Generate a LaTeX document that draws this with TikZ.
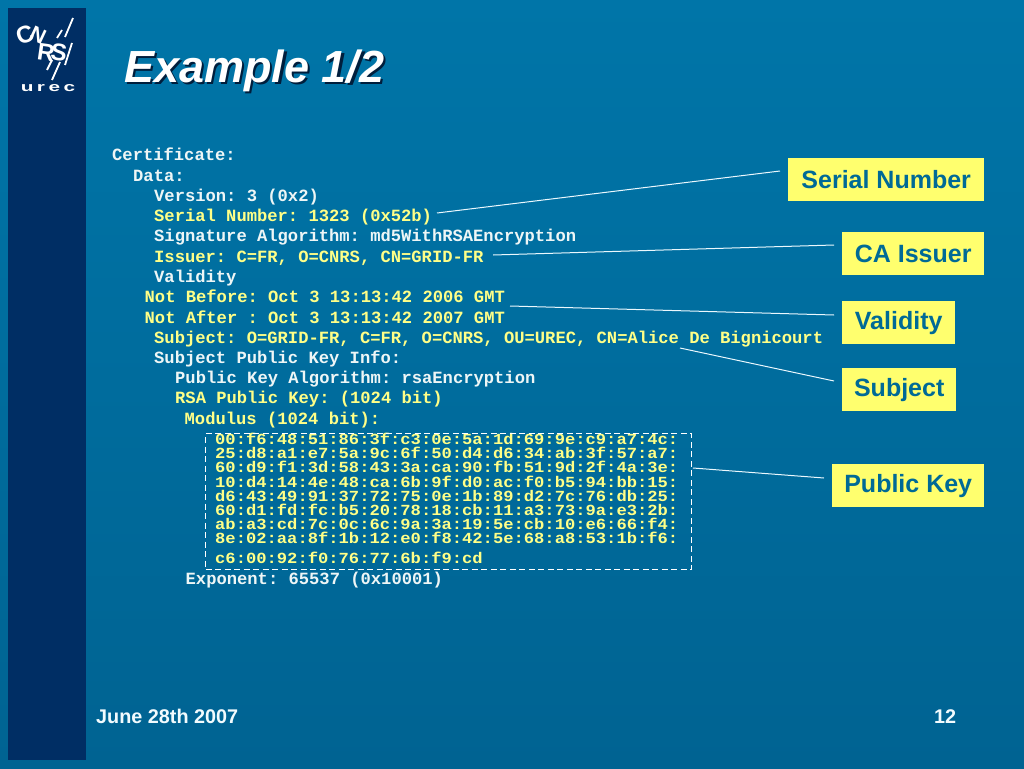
\documentclass[tikz,border=0pt]{standalone}
\usepackage{fontspec}
\setmainfont{Liberation Sans}
\newfontfamily\certfont{Liberation Mono}[BoldFont={Liberation Mono Bold}]
\frenchspacing
\definecolor{bgtop}{RGB}{0,117,168}
\definecolor{bgbot}{RGB}{0,99,146}
\definecolor{navy}{RGB}{0,46,100}
\definecolor{certwhite}{RGB}{238,246,246}
\definecolor{certyellow}{RGB}{255,255,135}
\definecolor{labelfill}{RGB}{255,255,110}
\definecolor{labeltext}{RGB}{0,106,150}
\definecolor{shadowc}{RGB}{0,30,60}
\newcommand{\hexline}[1]{\scalebox{1}[0.9]{#1}}
\tikzset{
  certbase/.style={anchor=base west,inner sep=0pt,font=\certfont\bfseries\fontsize{17.15}{17.15}\selectfont},
  certw/.style={certbase,text=certwhite},
  certy/.style={certbase,text=certyellow},
  labelbox/.style={fill=labelfill,draw=none,inner sep=0pt,text=labeltext,font=\bfseries\fontsize{25}{25}\selectfont},
  leader/.style={draw=white!92!cyan,line width=1pt},
  foot/.style={anchor=base west,inner sep=0pt,text=white!95!cyan,font=\bfseries\fontsize{19.8}{19.8}\selectfont},
  logol/.style={inner sep=0pt,text=white,font=\bfseries\fontsize{24}{24}\selectfont},
  slash/.style={draw=white,line width=1.8pt},
}
\begin{document}
\begin{tikzpicture}[x=1pt,y=-1pt]
\useasboundingbox (0,0) rectangle (1024,768);
\fill[top color=bgtop,bottom color=bgbot] (0,0) rectangle (1024,768);
\fill[navy] (8,8) rectangle (86,760);
% logo
\node[logol,rotate=20] (lc) at (25,35) {C};
\node[logol,rotate=-25,font=\bfseries\fontsize{21}{21}\selectfont] (ln) at (38,35) {N};
\node[logol,rotate=-8] (lr) at (46,53) {R};
\node[logol,rotate=-8] (ls) at (59,52) {S};
\draw[slash] (65,37) -- (73,18);
\draw[slash] (57,38) -- (62,30);
\draw[slash] (65,65) -- (72,43);
\draw[slash] (47,70) -- (52,60);
\draw[slash] (52,80) -- (60,62);
\node[inner sep=0pt,text=white,font=\bfseries\fontsize{13}{13}\selectfont] (lurec) at (48,88.5) {\scalebox{1.6}[1]{u\,r\,e\,c}};
% title
\node[anchor=base west,inner sep=0pt,text=shadowc,font=\bfseries\itshape\fontsize{45}{45}\selectfont] (titleshadow) at (126.5,84) {Example 1/2};
\node[anchor=base west,inner sep=0pt,text=white,font=\bfseries\itshape\fontsize{45}{45}\selectfont] (title) at (124,82) {Example 1/2};
% certificate
\node[certw] (l1) at (112,160.5) {Certificate:};
\node[certw] (l2) at (133,181) {Data:};
\node[certw] (l3) at (154,201) {Version: 3 (0x2)};
\node[certy] (l4) at (154,221.5) {Serial Number: 1323 (0x52b)};
\node[certw] (l5) at (154,241.5) {Signature Algorithm: md5WithRSAEncryption};
\node[certy] (l6) at (154,262) {Issuer: C=FR, O=CNRS, CN=GRID-FR};
\node[certw] (l7) at (154,282) {Validity};
\node[certy] (l8) at (144.5,302.5) {Not Before: Oct 3 13:13:42 2006 GMT};
\node[certy] (l9) at (144.5,323) {Not After : Oct 3 13:13:42 2007 GMT};
\node[certy] (l10) at (154,343) {Subject: O=GRID-FR, C=FR, O=CNRS, OU=UREC, CN=Alice De Bignicourt};
\node[certw] (l11) at (154,363) {Subject Public Key Info:};
\node[certw] (l12) at (175,383.5) {Public Key Algorithm: rsaEncryption};
\node[certy] (l13) at (175,403.5) {RSA Public Key: (1024 bit)};
\node[certy] (l14) at (184.5,424) {Modulus (1024 bit):};
\node[certy] (h1) at (215,444.5) {\hexline{00:f6:48:51:86:3f:c3:0e:5a:1d:69:9e:c9:a7:4c:}};
\node[certy] (h2) at (215,458.7) {\hexline{25:d8:a1:e7:5a:9c:6f:50:d4:d6:34:ab:3f:57:a7:}};
\node[certy] (h3) at (215,472.8) {\hexline{60:d9:f1:3d:58:43:3a:ca:90:fb:51:9d:2f:4a:3e:}};
\node[certy] (h4) at (215,487) {\hexline{10:d4:14:4e:48:ca:6b:9f:d0:ac:f0:b5:94:bb:15:}};
\node[certy] (h5) at (215,501.2) {\hexline{d6:43:49:91:37:72:75:0e:1b:89:d2:7c:76:db:25:}};
\node[certy] (h6) at (215,515.3) {\hexline{60:d1:fd:fc:b5:20:78:18:cb:11:a3:73:9a:e3:2b:}};
\node[certy] (h7) at (215,529.4) {\hexline{ab:a3:cd:7c:0c:6c:9a:3a:19:5e:cb:10:e6:66:f4:}};
\node[certy] (h8) at (215,543.5) {\hexline{8e:02:aa:8f:1b:12:e0:f8:42:5e:68:a8:53:1b:f6:}};
\node[certy] (h9) at (215,563.5) {\hexline{c6:00:92:f0:76:77:6b:f9:cd}};
\node[certw] (l15) at (185.5,584) {Exponent: 65537 (0x10001)};
% dashed box
\node[draw=white,dash pattern=on 6pt off 3.5pt,line width=1pt,inner sep=0pt,minimum width=486pt,minimum height=136pt,anchor=north west] (dbox) at (205,433) {};
% labels
\node[labelbox,minimum width=196pt,minimum height=43pt,anchor=north west] (bserial) at (788,158) {Serial Number};
\node[labelbox,minimum width=142pt,minimum height=43pt,anchor=north west] (bca) at (842,232) {CA Issuer};
\node[labelbox,minimum width=113pt,minimum height=43pt,anchor=north west] (bval) at (842,301) {Validity};
\node[labelbox,minimum width=114pt,minimum height=43pt,anchor=north west] (bsub) at (842,368) {Subject};
\node[labelbox,minimum width=152pt,minimum height=43pt,anchor=north west] (bpub) at (832,464) {Public Key};
% connector ends
\coordinate (c1a) at (437,213);
\coordinate (c1b) at (780,171);
\coordinate (c2a) at (493,255);
\coordinate (c2b) at (834,245);
\coordinate (c3a) at (510,306);
\coordinate (c3b) at (834,315);
\coordinate (c4a) at (680,348);
\coordinate (c4b) at (834,381);
\coordinate (c5a) at (693,468);
\coordinate (c5b) at (824,478);
\draw[leader] (c1a) -- (c1b);
\draw[leader] (c2a) -- (c2b);
\draw[leader] (c3a) -- (c3b);
\draw[leader] (c4a) -- (c4b);
\draw[leader] (c5a) -- (c5b);
% footer
\node[foot] (fdate) at (96,723) {June 28th 2007};
\node[foot] (fnum) at (934,723) {12};
\end{tikzpicture}
\end{document}
